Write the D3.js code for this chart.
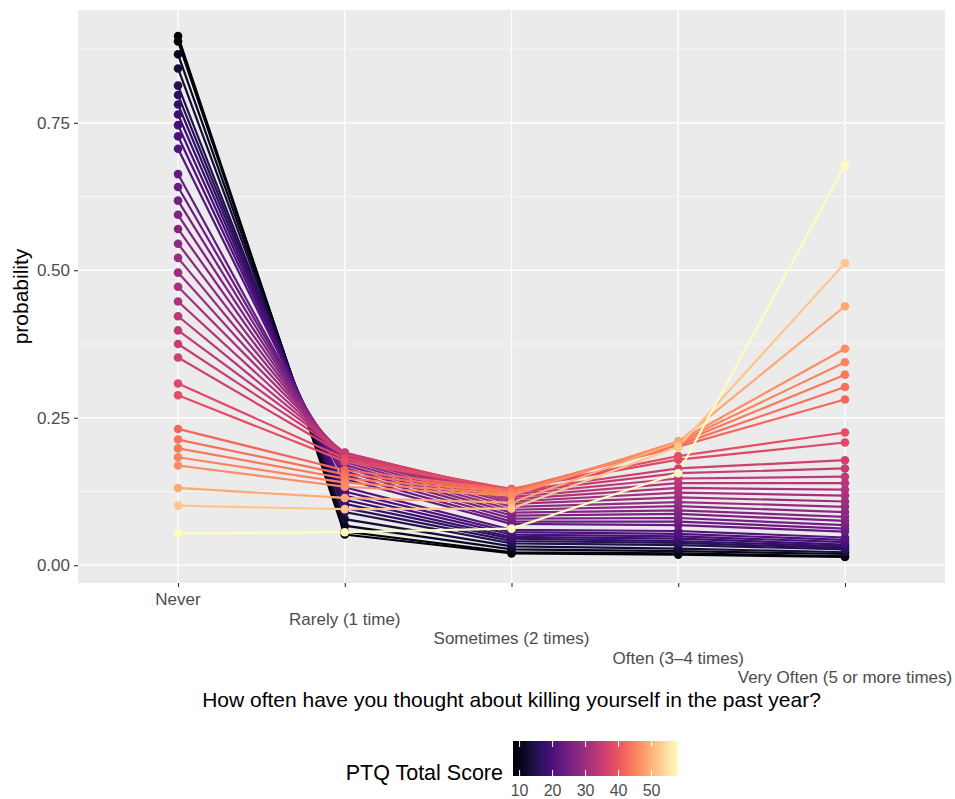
<!DOCTYPE html>
<html>
<head>
<meta charset="utf-8">
<script src="https://cdn.jsdelivr.net/npm/d3@7"></script>
<style>
  body { margin: 0; background: #fff; }
  svg { font-family: "Liberation Sans", Arial, sans-serif; }
</style>
</head>
<body>
<svg id="chart" width="955" height="799"></svg>
<script>
// answer categories on the x axis
var categories = ["Never", "Rarely (1 time)", "Sometimes (2 times)", "Often (3\u20134 times)", "Very Often (5 or more times)"];

// PTQ total score of each line
var scores = [8, 9, 11, 13, 15, 16, 17, 18, 19, 20, 21, 23, 24, 25, 26, 27, 28, 29, 30, 31, 32, 33, 34, 35, 36, 38, 39, 42, 43, 44, 45, 46, 49, 52, 58];

// predicted probability for each category, one entry per score
var pNever = [0.897, 0.888, 0.866, 0.842, 0.813, 0.797, 0.781, 0.764, 0.746, 0.727, 0.706, 0.663, 0.641, 0.618, 0.594, 0.570, 0.545, 0.521, 0.496, 0.472, 0.447, 0.422, 0.398, 0.375, 0.352, 0.308, 0.288, 0.231, 0.213, 0.198, 0.183, 0.169, 0.131, 0.101, 0.054];
var pRarely = [0.052, 0.057, 0.067, 0.078, 0.090, 0.097, 0.104, 0.111, 0.118, 0.125, 0.132, 0.146, 0.153, 0.159, 0.165, 0.170, 0.175, 0.179, 0.183, 0.186, 0.188, 0.190, 0.191, 0.190, 0.187, 0.181, 0.176, 0.161, 0.154, 0.147, 0.140, 0.133, 0.114, 0.095, 0.056];
var pSometimes = [0.020, 0.022, 0.027, 0.032, 0.037, 0.041, 0.045, 0.048, 0.052, 0.056, 0.060, 0.070, 0.074, 0.079, 0.084, 0.089, 0.094, 0.099, 0.104, 0.108, 0.112, 0.116, 0.120, 0.123, 0.125, 0.129, 0.129, 0.128, 0.126, 0.124, 0.121, 0.118, 0.106, 0.096, 0.062];
var pOften = [0.018, 0.020, 0.024, 0.028, 0.034, 0.038, 0.041, 0.045, 0.049, 0.053, 0.058, 0.068, 0.074, 0.080, 0.087, 0.093, 0.100, 0.107, 0.115, 0.123, 0.131, 0.139, 0.147, 0.156, 0.164, 0.179, 0.185, 0.201, 0.204, 0.207, 0.209, 0.210, 0.209, 0.201, 0.156];
var pVeryOften = [0.014, 0.015, 0.019, 0.022, 0.027, 0.029, 0.032, 0.035, 0.039, 0.043, 0.047, 0.057, 0.062, 0.068, 0.075, 0.082, 0.090, 0.099, 0.108, 0.118, 0.128, 0.139, 0.150, 0.164, 0.178, 0.208, 0.225, 0.281, 0.302, 0.323, 0.344, 0.367, 0.439, 0.512, 0.678];

var yTicks = [0, 0.25, 0.5, 0.75];
var legendTicks = [10, 20, 30, 40, 50];

var series = scores.map(function(s, i) {
  return {
    score: s,
    values: [pNever[i], pRarely[i], pSometimes[i], pOften[i], pVeryOften[i]].map(function(v, j) {
      return { cat: categories[j], p: v };
    })
  };
});

var svg = d3.select("#chart");
var panel = { left: 78, right: 945, top: 10, bottom: 583 };

var x = d3.scalePoint().domain(categories).range([panel.left, panel.right]).padding(0.6);

var allP = pNever.concat(pRarely, pSometimes, pOften, pVeryOften);
var ext = d3.extent(allP), pad = (ext[1] - ext[0]) * 0.05;
var y = d3.scaleLinear().domain([ext[0] - pad, ext[1] + pad]).range([panel.bottom, panel.top]);

var color = d3.scaleSequential(d3.interpolateMagma).domain(d3.extent(scores));

// panel background and grid
svg.append("rect")
  .attr("x", panel.left).attr("y", panel.top)
  .attr("width", panel.right - panel.left).attr("height", panel.bottom - panel.top)
  .attr("fill", "#ebebeb");

var minor = [0.125, 0.375, 0.625, 0.875];
svg.append("g").selectAll("line").data(minor).enter().append("line")
  .attr("x1", panel.left).attr("x2", panel.right)
  .attr("y1", function(d) { return y(d); }).attr("y2", function(d) { return y(d); })
  .attr("stroke", "#fff").attr("stroke-width", 0.6);

svg.append("g").selectAll("line").data(yTicks).enter().append("line")
  .attr("x1", panel.left).attr("x2", panel.right)
  .attr("y1", function(d) { return y(d); }).attr("y2", function(d) { return y(d); })
  .attr("stroke", "#fff").attr("stroke-width", 1.3);

svg.append("g").selectAll("line").data(categories).enter().append("line")
  .attr("x1", function(d) { return x(d); }).attr("x2", function(d) { return x(d); })
  .attr("y1", panel.top).attr("y2", panel.bottom)
  .attr("stroke", "#fff").attr("stroke-width", 1.3);

// lines then points
var line = d3.line()
  .x(function(d) { return x(d.cat); })
  .y(function(d) { return y(d.p); });

svg.append("g").selectAll("path").data(series).enter().append("path")
  .attr("d", function(d) { return line(d.values); })
  .attr("fill", "none")
  .attr("stroke", function(d) { return color(d.score); })
  .attr("stroke-width", 2.2);

var pts = svg.append("g");
series.forEach(function(s) {
  pts.selectAll(null).data(s.values).enter().append("circle")
    .attr("cx", function(d) { return x(d.cat); })
    .attr("cy", function(d) { return y(d.p); })
    .attr("r", 4.3)
    .attr("fill", color(s.score));
});

// y axis
var yAxis = svg.append("g")
  .attr("transform", "translate(" + panel.left + ",0)")
  .call(d3.axisLeft(y).tickValues(yTicks).tickFormat(d3.format(".2f")).tickSize(4).tickPadding(4));
yAxis.select(".domain").remove();
yAxis.selectAll("line").attr("stroke", "#333").attr("stroke-width", 1.1);
yAxis.selectAll("text").attr("fill", "#4d4d4d").style("font-size", "17px").style("font-family", "Liberation Sans, Arial, sans-serif");

// x axis with staggered labels
var xAxis = svg.append("g")
  .attr("transform", "translate(0," + panel.bottom + ")")
  .call(d3.axisBottom(x).tickSize(4).tickFormat(""));
xAxis.select(".domain").remove();
xAxis.selectAll("line").attr("stroke", "#333").attr("stroke-width", 1.1);

svg.append("g").selectAll("text").data(categories).enter().append("text")
  .attr("x", function(d) { return x(d); })
  .attr("y", function(d, i) { return 605 + i * 19.5; })
  .attr("text-anchor", "middle")
  .attr("fill", "#4d4d4d")
  .style("font-size", "17px")
  .text(function(d) { return d; });

// axis titles
svg.append("text")
  .attr("x", (panel.left + panel.right) / 2).attr("y", 707)
  .attr("text-anchor", "middle")
  .style("font-size", "21px")
  .text("How often have you thought about killing yourself in the past year?");

svg.append("text")
  .attr("transform", "translate(28," + ((panel.top + panel.bottom) / 2) + ") rotate(-90)")
  .attr("text-anchor", "middle")
  .style("font-size", "21px")
  .text("probability");

// colour bar legend
var bar = { x: 513, y: 741, w: 165, h: 35 };
var lx = d3.scaleLinear().domain(d3.extent(scores)).range([bar.x, bar.x + bar.w]);

var grad = svg.append("defs").append("linearGradient").attr("id", "magma");
d3.range(0, 1.0001, 0.05).forEach(function(t) {
  grad.append("stop").attr("offset", t).attr("stop-color", d3.interpolateMagma(t));
});
svg.append("rect")
  .attr("x", bar.x).attr("y", bar.y).attr("width", bar.w).attr("height", bar.h)
  .attr("fill", "url(#magma)");

var lt = svg.append("g");
lt.selectAll(".t1").data(legendTicks).enter().append("line")
  .attr("x1", function(d) { return lx(d); }).attr("x2", function(d) { return lx(d); })
  .attr("y1", bar.y).attr("y2", bar.y + 6)
  .attr("stroke", "#fff").attr("stroke-width", 1);
lt.selectAll(".t2").data(legendTicks).enter().append("line")
  .attr("x1", function(d) { return lx(d); }).attr("x2", function(d) { return lx(d); })
  .attr("y1", bar.y + bar.h - 6).attr("y2", bar.y + bar.h)
  .attr("stroke", "#fff").attr("stroke-width", 1);
lt.selectAll("text").data(legendTicks).enter().append("text")
  .attr("x", function(d) { return lx(d); })
  .attr("y", 796)
  .attr("text-anchor", "middle")
  .attr("fill", "#4d4d4d")
  .style("font-size", "16px")
  .text(function(d) { return d; });

svg.append("text")
  .attr("x", 503).attr("y", 780)
  .attr("text-anchor", "end")
  .style("font-size", "21.5px")
  .text("PTQ Total Score");
</script>
</body>
</html>
